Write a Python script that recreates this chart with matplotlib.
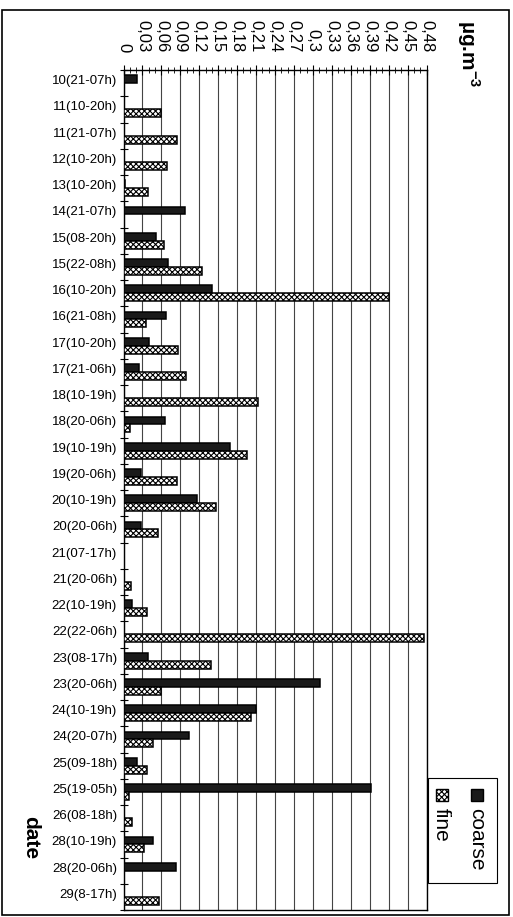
import matplotlib
matplotlib.use("Agg")
import matplotlib.pyplot as plt
from matplotlib.patches import Rectangle
from matplotlib.transforms import ScaledTranslation
import numpy as np

# Sampling periods (day(start-end hour)) and concentrations in µg.m-3
dates = [
    "10(21-07h)", "11(10-20h)", "11(21-07h)", "12(10-20h)", "13(10-20h)",
    "14(21-07h)", "15(08-20h)", "15(22-08h)", "16(10-20h)", "16(21-08h)",
    "17(10-20h)", "17(21-06h)", "18(10-19h)", "18(20-06h)", "19(10-19h)",
    "19(20-06h)", "20(10-19h)", "20(20-06h)", "21(07-17h)", "21(20-06h)",
    "22(10-19h)", "22(22-06h)", "23(08-17h)", "23(20-06h)", "24(10-19h)",
    "24(20-07h)", "25(09-18h)", "25(19-05h)", "26(08-18h)", "28(10-19h)",
    "28(20-06h)", "29(8-17h)",
]
coarse = [
    0.022, 0.0, 0.0, 0.0, 0.002, 0.097, 0.052, 0.070, 0.140, 0.067,
    0.041, 0.025, 0.0, 0.066, 0.168, 0.028, 0.117, 0.028, 0.0, 0.0,
    0.013, 0.0, 0.039, 0.312, 0.210, 0.103, 0.021, 0.392, 0.0, 0.047,
    0.083, 0.0,
]
fine = [
    0.0, 0.060, 0.084, 0.069, 0.039, 0.0, 0.064, 0.125, 0.420, 0.036,
    0.086, 0.099, 0.213, 0.010, 0.195, 0.084, 0.147, 0.054, 0.0, 0.012,
    0.037, 0.476, 0.139, 0.059, 0.202, 0.047, 0.037, 0.009, 0.014, 0.032,
    0.0, 0.056,
]
value_ticks = [0, 0.03, 0.06, 0.09, 0.12, 0.15, 0.18, 0.21, 0.24, 0.27,
               0.30, 0.33, 0.36, 0.39, 0.42, 0.45, 0.48]
value_tick_labels = ["0", "0,03", "0,06", "0,09", "0,12", "0,15", "0,18",
                     "0,21", "0,24", "0,27", "0,3", "0,33", "0,36", "0,39",
                     "0,42", "0,45", "0,48"]

W, H = 513, 917
plt.rcParams["font.family"] = ["Liberation Sans", "DejaVu Sans"]
plt.rcParams["mathtext.fontset"] = "custom"
plt.rcParams["mathtext.rm"] = "Liberation Sans"
plt.rcParams["mathtext.bf"] = "Liberation Sans:bold"
plt.rcParams["hatch.linewidth"] = 0.8

fig = plt.figure(figsize=(W / 100, H / 100), dpi=100)


def fx(px):
    return px / W


def fy(py):
    return 1 - py / H


ax = fig.add_axes([fx(123.5), fy(910), fx(426.5) - fx(123.5), fy(70) - fy(910)])

y = np.arange(len(dates))
h = 0.3
coarse_lw = [1.1 if v > 0 else 0.0 for v in coarse]
fine_lw = [1.1 if v > 0 else 0.0 for v in fine]
ax.barh(y - h / 2, coarse, height=h, color="#1a1a1a", edgecolor="black",
        linewidth=coarse_lw, zorder=3, label="coarse")
ax.barh(y + h / 2, fine, height=h, color="white", edgecolor="black",
        hatch="xxxxxx", linewidth=fine_lw, zorder=3, label="fine")

ax.set_xlim(0, 0.48)
ax.set_ylim(len(dates) - 0.5, -0.5)

# value axis on top, labels rotated
ax.xaxis.tick_top()
ax.set_xticks(value_ticks)
ax.set_xticklabels(value_tick_labels, rotation=-90, fontsize=12)
ax.set_xticks(np.arange(0, 0.4801, 0.01), minor=True)
ax.tick_params(axis="x", which="major", direction="inout", length=7,
               width=0.8, pad=9.5)
ax.tick_params(axis="x", which="minor", direction="inout", length=4, width=0.6)

# category axis
ax.set_yticks(y)
ax.set_yticklabels(dates, fontsize=9.5)
ax.set_yticks(np.arange(-0.5, len(dates), 1.0), minor=True)
ax.tick_params(axis="y", which="major", length=0, pad=4.7)
ax.tick_params(axis="y", which="minor", direction="inout", length=6, width=0.8)
for lbl in ax.get_yticklabels():
    lbl.set_transform(lbl.get_transform()
                      + ScaledTranslation(0, 3.5 / 100, fig.dpi_scale_trans))

ax.grid(axis="x", which="major", color="#444444", linewidth=0.8, zorder=0)
ax.set_axisbelow(True)
for s in ax.spines.values():
    s.set_linewidth(1.0)
    s.set_color("black")

# outer chart frame
fig.add_artist(Rectangle((fx(2), fy(915)), fx(509) - fx(2), fy(10) - fy(915),
                         transform=fig.transFigure, fill=False, lw=1.2,
                         ec="black"))

# unit and category titles
fig.text(fx(455), fy(20), "µg.m$^{\\mathbf{-3}}$", rotation=-90, ha="left",
         va="top", fontsize=15, fontweight="bold")
fig.text(fx(31), fy(838), "date", rotation=-90, ha="center", va="center",
         fontsize=15, fontweight="bold")

# legend box, laid out sideways
fig.add_artist(Rectangle((fx(428), fy(883)), fx(497) - fx(428), fy(778) - fy(883),
                         transform=fig.transFigure, fill=False, lw=0.8,
                         ec="black"))
sq = 12
for cx, face, hatch, name in [(476.7, "#1a1a1a", None, "coarse"),
                              (441.7, "white", "xxxxxx", "fine")]:
    fig.add_artist(Rectangle((fx(cx - sq / 2), fy(795 + sq / 2)), fx(sq), sq / H,
                             transform=fig.transFigure, fc=face, ec="black",
                             hatch=hatch, lw=1.0))
    fig.text(fx(cx), fy(808), name, rotation=-90, ha="center", va="top",
             fontsize=15)

fig.savefig("out.png", dpi=100)
